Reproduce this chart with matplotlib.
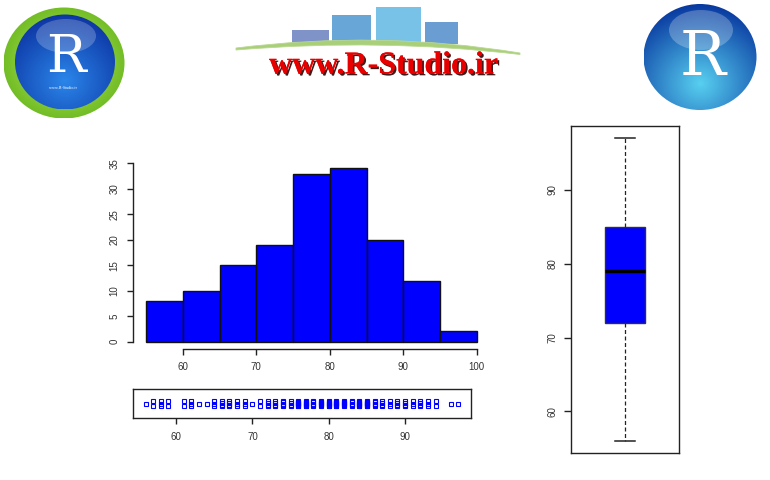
import numpy as np
import matplotlib
matplotlib.use("Agg")
import matplotlib.pyplot as plt
from matplotlib.patches import Ellipse, Rectangle, PathPatch
from matplotlib.path import Path
import matplotlib.patheffects as pe

# ---------------- data ----------------
bin_edges = [55, 60, 65, 70, 75, 80, 85, 90, 95, 100]
hist_counts = [8, 10, 15, 19, 33, 34, 20, 12, 2]

strip_values = [56, 57, 58, 59,
                61, 62, 63, 64, 65,
                66, 67, 68, 69, 70,
                71, 72, 73, 74, 75,
                76, 77, 78, 79, 80,
                81, 82, 83, 84, 85,
                86, 87, 88, 89, 90,
                91, 92, 93, 94,
                96, 97]
strip_counts = [1, 2, 3, 2,
                2, 3, 1, 1, 3,
                4, 4, 3, 3, 1,
                2, 4, 4, 5, 4,
                8, 7, 5, 6, 7,
                8, 6, 5, 7, 8,
                5, 4, 3, 4, 4,
                3, 4, 3, 2,
                1, 1]

hist_yticks = [0, 5, 10, 15, 20, 25, 30, 35]
hist_xticks = [60, 70, 80, 90, 100]
strip_xticks = [60, 70, 80, 90]
box_yticks = [60, 70, 80, 90]

site_text = "www.R-Studio.ir"

# ---------------- figure ----------------
W, H = 770, 480
fig = plt.figure(figsize=(W / 100, H / 100), dpi=100)
fig.patch.set_facecolor("white")
plt.rcParams["font.family"] = ["Liberation Sans", "DejaVu Sans"]

AX_COL = "#222222"
LBL_COL = "#333333"
TICK_FS = 7


def px_axes(l, t, r, b):
    return fig.add_axes([l / W, 1 - b / H, (r - l) / W, (b - t) / H])


# ---------------- logos (decorative overlay) ----------------
deco = fig.add_axes([0, 0, 1, 1], zorder=0)
deco.set_xlim(0, W)
deco.set_ylim(H, 0)
deco.axis("off")


def grad_ellipse(ax, cx, cy, w, h, c_out, c_in, fy=0.65, z=1):
    el = Ellipse((cx, cy), w, h, facecolor="none", edgecolor="none")
    ax.add_patch(el)
    n = 200
    yy, xx = np.mgrid[0:1:n * 1j, 0:1:n * 1j]
    d = np.sqrt((xx - 0.5) ** 2 + (yy - fy) ** 2) / 0.75
    d = np.clip(d, 0, 1)
    c0 = np.array(matplotlib.colors.to_rgb(c_in))
    c1 = np.array(matplotlib.colors.to_rgb(c_out))
    img = c0[None, None, :] * (1 - d[..., None]) + c1[None, None, :] * d[..., None]
    im = ax.imshow(img, extent=(cx - w / 2, cx + w / 2, cy + h / 2, cy - h / 2),
                   origin="upper", zorder=z, interpolation="bilinear")
    im.set_clip_path(el)
    ax.set_xlim(0, W)
    ax.set_ylim(H, 0)


# left logo
grad_ellipse(deco, 64, 63, 121, 111, "#4aa400", "#c4f070", fy=0.5, z=1)
grad_ellipse(deco, 65, 62, 100, 95, "#0b2f9e", "#2a86ea", fy=0.7, z=2)
deco.add_patch(Ellipse((66, 36), 60, 34, facecolor="white", alpha=0.22,
                       edgecolor="none", zorder=3))
deco.text(66, 58, "R", color="white", fontsize=38, family="DejaVu Serif",
          ha="center", va="center", zorder=4)
deco.text(63, 88, site_text, color="white", fontsize=3.0, ha="center",
          va="center", zorder=4, family="Liberation Serif")

# right logo
grad_ellipse(deco, 700, 57, 113, 106, "#0838a0", "#58d0f0", fy=0.75, z=1)
deco.add_patch(Ellipse((701, 30), 64, 40, facecolor="white", alpha=0.25,
                       edgecolor="none", zorder=3))
deco.text(703, 58, "R", color="white", fontsize=44, family="DejaVu Serif",
          ha="center", va="center", zorder=4)

# center banner bars
for (l, t, r, b, c) in [(292, 30, 329, 44, "#7f93c9"),
                        (332, 15, 371, 44, "#67a6d6"),
                        (376, 7, 421, 44, "#78c2e8"),
                        (425, 22, 458, 44, "#6a9ed2")]:
    deco.add_patch(Rectangle((l, t), r - l, b - t, facecolor=c,
                             edgecolor="none", zorder=2))
verts = [(236, 48), (380, 30), (520, 53), (520, 54.5), (380, 38), (236, 50), (236, 48)]
codes = [Path.MOVETO, Path.CURVE3, Path.CURVE3, Path.LINETO, Path.CURVE3,
         Path.CURVE3, Path.CLOSEPOLY]
deco.add_patch(PathPatch(Path(verts, codes), facecolor="#a9cf78",
                         edgecolor="#b9d892", lw=0.6, zorder=3))
t = deco.text(384, 66, site_text, color="#e80000", fontsize=23,
              family="Liberation Serif", weight="bold", ha="center",
              va="center", zorder=4)
t.set_path_effects([pe.withSimplePatchShadow(offset=(1.3, -1.3),
                                             shadow_rgbFace="#300000", alpha=0.9),
                    pe.Normal()])

# ---------------- histogram ----------------
axh = px_axes(132.8, 161.5, 490, 348.6)
axh.set_zorder(2)
axh.patch.set_alpha(0)
lefts = bin_edges[:-1]
widths = np.diff(bin_edges)
axh.bar(lefts, hist_counts, width=widths, align="edge", color="#0000ff",
        edgecolor="#111111", linewidth=1.0)
axh.set_xlim(53.2, 101.8)
axh.set_ylim(-1.36, 35.36)
for s in ["top", "right"]:
    axh.spines[s].set_visible(False)
axh.spines["left"].set_bounds(hist_yticks[0], hist_yticks[-1])
axh.spines["bottom"].set_bounds(hist_xticks[0], hist_xticks[-1])
axh.set_xticks(hist_xticks)
axh.set_yticks(hist_yticks)
axh.set_yticklabels([str(v) for v in hist_yticks], rotation=90, va="center")
for s in ["left", "bottom"]:
    axh.spines[s].set_color(AX_COL)
    axh.spines[s].set_linewidth(1.0)
axh.tick_params(axis="both", length=4.3, width=1.0, color=AX_COL,
                labelsize=TICK_FS, labelcolor=LBL_COL, pad=5.4)

# ---------------- strip chart ----------------
axs = px_axes(133, 389.3, 471, 418.3)
axs.set_zorder(2)
spread = 0.18
for v, n in zip(strip_values, strip_counts):
    offs = np.linspace(-1, 1, n) * spread if n > 1 else np.array([0.0])
    axs.plot(np.full(n, v), offs, linestyle="none", marker="s", ms=3.0,
             mfc="none", mec="#0000ff", mew=0.8)
axs.set_xlim(54.36, 98.64)
axs.set_ylim(-1, 1)
axs.set_yticks([])
axs.set_xticks(strip_xticks)
for s in axs.spines.values():
    s.set_color(AX_COL)
    s.set_linewidth(1.0)
axs.tick_params(axis="x", length=4.3, width=1.0, color=AX_COL,
                labelsize=TICK_FS, labelcolor=LBL_COL, pad=5.4)

# ---------------- boxplot ----------------
axb = px_axes(571, 126, 679, 453)
axb.set_zorder(2)
box_data = np.repeat(strip_values, strip_counts)
axb.boxplot(box_data, positions=[1], widths=0.4, whis=(0, 100),
            patch_artist=True, showfliers=False, capwidths=0.2,
            boxprops=dict(facecolor="#0000ff", edgecolor="#333322", linewidth=1.0),
            medianprops=dict(color="black", linewidth=2.4),
            whiskerprops=dict(color="#222222", linewidth=0.9, linestyle=(0, (3.2, 2))),
            capprops=dict(color="#222222", linewidth=1.1))
axb.set_xlim(0.46, 1.54)
axb.set_ylim(54.36, 98.64)
axb.set_xticks([])
axb.set_yticks(box_yticks)
axb.set_yticklabels([str(v) for v in box_yticks], rotation=90, va="center")
for s in axb.spines.values():
    s.set_color(AX_COL)
    s.set_linewidth(1.0)
axb.tick_params(axis="y", length=4.8, width=1.0, color=AX_COL,
                labelsize=TICK_FS, labelcolor=LBL_COL, pad=5.0)

fig.savefig("out.png", dpi=100, facecolor="white")
